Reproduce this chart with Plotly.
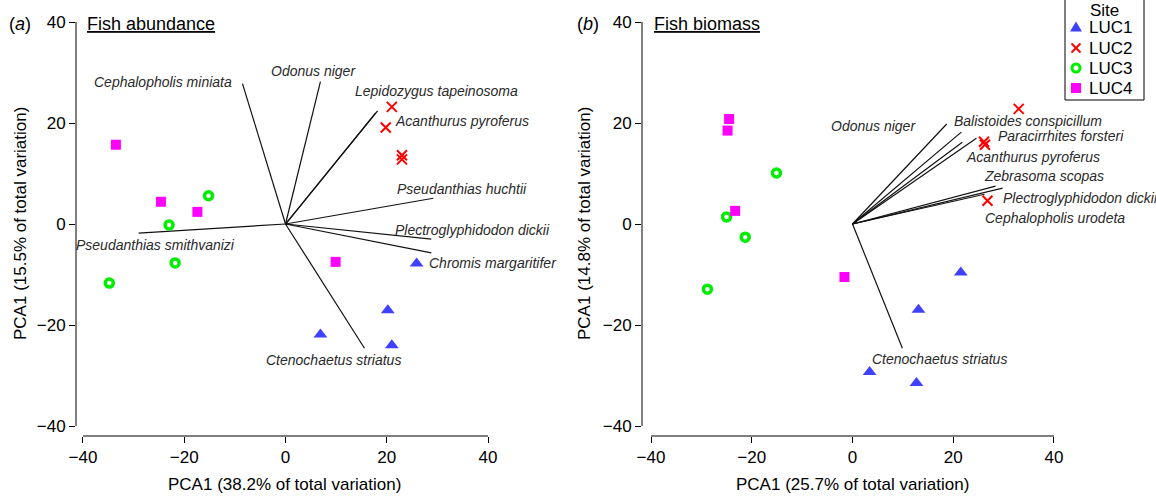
import plotly.graph_objects as go

W, H = 1156, 496          # target window / figure size
OFF = 0                   # page margin removed by post_script below
FW, FH = W - OFF, H - OFF

sites = ["LUC1", "LUC2", "LUC3", "LUC4"]

# ---- Panel (a): Fish abundance, site scores ----
a_x = {
    "LUC1": [25.9, 20.2, 6.9, 21.0],
    "LUC2": [21.0, 19.8, 23.0, 23.0],
    "LUC3": [-15.2, -23.0, -21.8, -34.8],
    "LUC4": [-33.5, -24.6, -17.4, 9.9],
}
a_y = {
    "LUC1": [-7.8, -17.1, -21.9, -24.0],
    "LUC2": [23.2, 19.1, 13.6, 12.8],
    "LUC3": [5.6, -0.2, -7.7, -11.7],
    "LUC4": [15.7, 4.4, 2.4, -7.5],
}
# ---- Panel (b): Fish biomass, site scores ----
b_x = {
    "LUC1": [21.5, 13.1, 3.4, 12.7],
    "LUC2": [33.0, 26.1, 26.3, 26.8],
    "LUC3": [-15.1, -25.0, -21.3, -28.8],
    "LUC4": [-24.5, -24.8, -23.3, -1.6],
}
b_y = {
    "LUC1": [-9.6, -17.0, -29.3, -31.5],
    "LUC2": [22.8, 16.3, 15.7, 4.6],
    "LUC3": [10.1, 1.4, -2.6, -12.9],
    "LUC4": [20.8, 18.5, 2.6, -10.5],
}

# ---- Species loadings (vectors) ----
species_a = ["Cephalopholis miniata", "Odonus niger", "Lepidozygus tapeinosoma",
             "Acanthurus pyroferus", "Pseudanthias huchtii", "Plectroglyphidodon dickii",
             "Chromis margaritifer", "Pseudanthias smithvanizi", "Ctenochaetus striatus"]
load_a_x = [-8.5, 6.9, 18.2, 17.8, 29.2, 28.8, 28.8, -29.0, 15.6]
load_a_y = [27.8, 28.2, 22.4, 22.0, 5.1, -3.0, -5.7, -1.8, -24.6]
label_a_x = [-10.1, 5.5, 13.4, 21.3, 21.7, 21.3, 27.9, -9.5, 9.5]
label_a_y = [28.1, 30.3, 26.3, 20.4, 6.9, -1.2, -7.7, -4.2, -26.9]
anchor_a = ["right", "center", "left", "left", "left", "left", "left", "right", "center"]

species_b = ["Odonus niger", "Balistoides conspicillum", "Paracirrhites forsteri",
             "Acanthurus pyroferus", "Zebrasoma scopas", "Plectroglyphidodon dickii",
             "Cephalopholis urodeta", "Ctenochaetus striatus"]
load_b_x = [18.7, 21.6, 24.6, 21.8, 28.4, 29.8, 26.2, 9.9]
load_b_y = [19.8, 18.2, 17.0, 16.2, 7.5, 7.1, 5.9, -24.6]
label_b_x = [13.1, 19.8, 28.4, 22.2, 25.8, 29.4, 26.0, 17.3]
label_b_y = [19.4, 20.4, 17.4, 13.3, 9.5, 5.2, 1.2, -26.7]
anchor_b = ["right", "left", "left", "left", "left", "left", "left", "center"]

tick_vals = [-40, -20, 0, 20, 40]
xtitle_a = "PCA1 (38.2% of total variation)"
ytitle_a = "PCA1 (15.5% of total variation)"
xtitle_b = "PCA1 (25.7% of total variation)"
ytitle_b = "PCA1 (14.8% of total variation)"
legend_title = "Site"

FONT = "Liberation Sans, Arial, Helvetica, sans-serif"
BLUE, RED, GREEN, MAGENTA = "#4040FF", "#FF0000", "#00EE00", "#FF00FF"
styles = {
    "LUC1": dict(symbol="triangle-up", size=12, color=BLUE, line=dict(width=0)),
    "LUC2": dict(symbol="x-thin-open", size=10, color=RED, line=dict(width=2, color=RED)),
    "LUC3": dict(symbol="circle-open", size=8, color=GREEN, line=dict(width=3.5, color=GREEN)),
    "LUC4": dict(symbol="square", size=10, color=MAGENTA, line=dict(width=0)),
}


def PX(px):
    return (px - OFF) / FW


def PY(py):
    return 1 - (py - OFF) / FH


fig = go.Figure()


def vec_xy(lx, ly):
    xs, ys = [], []
    for x, y in zip(lx, ly):
        xs += [0, x, None]
        ys += [0, y, None]
    return xs, ys


for panel, (xa, ya, px, py, lx, ly) in enumerate([
        ("x", "y", a_x, a_y, load_a_x, load_a_y),
        ("x2", "y2", b_x, b_y, load_b_x, load_b_y)]):
    vx, vy = vec_xy(lx, ly)
    fig.add_trace(go.Scatter(x=vx, y=vy, mode="lines", xaxis=xa, yaxis=ya,
                             line=dict(color="#111111", width=1.2),
                             showlegend=False, hoverinfo="skip"))
    for s in sites:
        fig.add_trace(go.Scatter(x=px[s], y=py[s], mode="markers", name=s,
                                 xaxis=xa, yaxis=ya, marker=styles[s],
                                 showlegend=False, legendgroup=s))

annotations = []
for names, lx, ly, anc, xr, yr in [
        (species_a, label_a_x, label_a_y, anchor_a, "x", "y"),
        (species_b, label_b_x, label_b_y, anchor_b, "x2", "y2")]:
    for n, x, y, a in zip(names, lx, ly, anc):
        annotations.append(dict(x=x, y=y, xref=xr, yref=yr, text="<i>%s</i>" % n,
                                showarrow=False, xanchor=a, yanchor="middle",
                                font=dict(family=FONT, size=14, color="#2a2a2a")))


def add_ann(text, px, py, xanchor="left", size=18, angle=0, color="black"):
    annotations.append(dict(x=PX(px), y=PY(py), xref="paper", yref="paper", text=text,
                            showarrow=False, xanchor=xanchor, yanchor="middle",
                            textangle=angle, font=dict(family=FONT, size=size, color=color)))


add_ann("(<i>a</i>)", 7, 24)
add_ann("<u>Fish abundance</u>", 85, 24)
add_ann("(<i>b</i>)", 575, 24)
add_ann("<u>Fish biomass</u>", 652, 24)
add_ann(xtitle_a, 284, 484, "center", 17)
add_ann(xtitle_b, 852, 484, "center", 17)
add_ann(ytitle_a, 20, 224, "center", 17, -90)
add_ann(ytitle_b, 584, 224, "center", 17, -90)

# ---- manual legend (R-style box) ----
shapes = []
LX0, LX1, LY0, LY1 = 1065, 1144, -3, 100
shapes.append(dict(type="rect", xref="paper", yref="paper",
                   x0=PX(LX0), x1=PX(LX1), y0=PY(LY1), y1=PY(LY0),
                   line=dict(color="black", width=1), fillcolor="white", layer="above"))
add_ann(legend_title, 1104, 10.5, "center", 17)
item_y = [27, 48, 68, 88]
mx = 1076
for s, iy in zip(sites, item_y):
    add_ann(s, 1087, iy, "left", 17)
    if s == "LUC1":
        path = "M %f,%f L %f,%f L %f,%f Z" % (
            PX(mx - 6), PY(iy + 4.5), PX(mx + 6), PY(iy + 4.5), PX(mx), PY(iy - 5.5))
        shapes.append(dict(type="path", xref="paper", yref="paper", path=path,
                           fillcolor=BLUE, line=dict(width=0), layer="above"))
    elif s == "LUC2":
        for d in (1, -1):
            shapes.append(dict(type="line", xref="paper", yref="paper",
                               x0=PX(mx - 4.5), x1=PX(mx + 4.5),
                               y0=PY(iy - 4.5 * d), y1=PY(iy + 4.5 * d),
                               line=dict(color=RED, width=2), layer="above"))
    elif s == "LUC3":
        shapes.append(dict(type="circle", xref="paper", yref="paper",
                           x0=PX(mx - 4), x1=PX(mx + 4), y0=PY(iy + 4), y1=PY(iy - 4),
                           line=dict(color=GREEN, width=3), fillcolor="white", layer="above"))
    else:
        shapes.append(dict(type="rect", xref="paper", yref="paper",
                           x0=PX(mx - 5), x1=PX(mx + 5), y0=PY(iy + 5), y1=PY(iy - 5),
                           line=dict(width=0), fillcolor=MAGENTA, layer="above"))

axis_common = dict(tickvals=tick_vals, ticks="outside", ticklen=6, tickcolor="black",
                   tickwidth=1, showgrid=False, zeroline=False, showline=False,
                   tickfont=dict(family=FONT, size=17, color="black"))

# R-style detached axis lines spanning the tick range
for xr, yr in [("x", "y"), ("x2", "y2")]:
    shapes.append(dict(type="line", xref=xr, yref=yr + " domain", x0=-40, x1=40, y0=0, y1=0,
                       line=dict(color="black", width=1)))
    shapes.append(dict(type="line", xref=xr + " domain", yref=yr, x0=0, x1=0, y0=-40, y1=40,
                       line=dict(color="black", width=1)))

fig.update_layout(
    width=FW, height=FH,
    margin=dict(l=0, r=0, t=0, b=0, pad=0, autoexpand=False),
    paper_bgcolor="white", plot_bgcolor="white",
    xaxis=dict(domain=[PX(76), PX(495)], range=[-41.38, 41.38], anchor="y", **axis_common),
    yaxis=dict(domain=[PY(436), PY(15)], range=[-41.98, 41.39], anchor="x", **axis_common),
    xaxis2=dict(domain=[PX(642), PX(1062)], range=[-41.79, 41.59], anchor="y2", **axis_common),
    yaxis2=dict(domain=[PY(436), PY(15)], range=[-41.98, 41.39], anchor="x2", **axis_common),
    annotations=annotations,
    shapes=shapes,
    showlegend=False,
    hovermode=False,
)

fig.write_html("out.html",
               config={"displayModeBar": False, "staticPlot": True},
               post_script="document.body.style.margin='0';document.body.style.overflow='hidden';")
